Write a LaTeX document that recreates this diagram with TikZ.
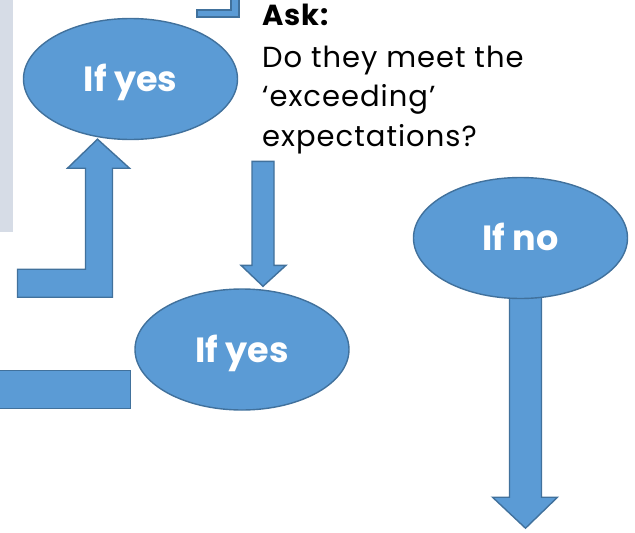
\documentclass[tikz,border=0pt]{standalone}
\usepackage{fontspec}
\setmainfont{Poppins}
\usetikzlibrary{shapes.geometric,backgrounds}

\definecolor{boxblue}{HTML}{5B9BD5}
\definecolor{edgeblue}{HTML}{41719C}
\definecolor{panelgrey}{HTML}{D6DCE6}

\tikzset{
  choice/.style={ellipse, draw=edgeblue, line width=1.4pt, fill=boxblue,
    minimum width=214pt, minimum height=121pt, inner sep=0pt,
    text=white, font=\fontsize{35}{35}\selectfont\bfseries,
    text height=25pt, text depth=0pt},
  blockarrow/.style={draw=edgeblue, line width=1.4pt, fill=boxblue, line join=miter}
}

\begin{document}
\begin{tikzpicture}[x=1pt, y=-1pt]
        \clip (0,0) rectangle (635,533);
        \useasboundingbox (0,0) rectangle (635,533);

        % Side panel
        \fill[panelgrey] (-5,-5) rectangle (13,232);

        % Decision ovals
        \node[choice] (yesup)   at (130.5,79)  {If yes};
        \node[choice] (yesdown) at (242,349.5) {If yes};
        \node[choice] (ifno)    at (520.5,238) {If no};

        % Question
        \node[anchor=north west, align=left, inner sep=0pt,
              font=\fontsize{29}{39.5}\selectfont\addfontfeature{LetterSpace=3.5}] (ask) at (262,4)
              {\textbf{Ask:}\\[2pt]Do they meet the\\‘exceeding’\\expectations?};

        \begin{scope}[on background layer]
        % Bent arrow up into the first oval
        \draw[blockarrow] (yesup.south) ++(-33,-1) -- ++(32,29) -- ++(-17,0)
              -- ++(0,129) -- ++(-95,0) -- ++(0,-28) -- ++(68,0)
              -- ++(0,-101) -- ++(-18,0) -- cycle;

        % Arrow down into the second oval
        \draw[blockarrow] (yesdown.north) ++(21,-2) -- ++(23,-21) -- ++(-12,0)
              -- ++(0,-104) -- ++(-22,0) -- ++(0,104) -- ++(-11,0) -- cycle;

        % Long arrow out of the "no" oval
        \draw[blockarrow] (ifno.south) ++(5,229) -- ++(32,-31) -- ++(-16,0)
              -- ++(0,-205) -- ++(-32,0) -- ++(0,205) -- ++(-17,0) -- cycle;

        % Tails running off the edges
        \draw[blockarrow] (197,10) -- (231,10) -- (231,-5) -- (239,-5)
              -- (239,17) -- (197,17) -- cycle;
        \draw[blockarrow] (yesdown.west) ++(-4,21) -- ++(0,38)
              -- ++(-140,0) -- ++(0,-38) -- cycle;
        \end{scope}
\end{tikzpicture}
\end{document}
